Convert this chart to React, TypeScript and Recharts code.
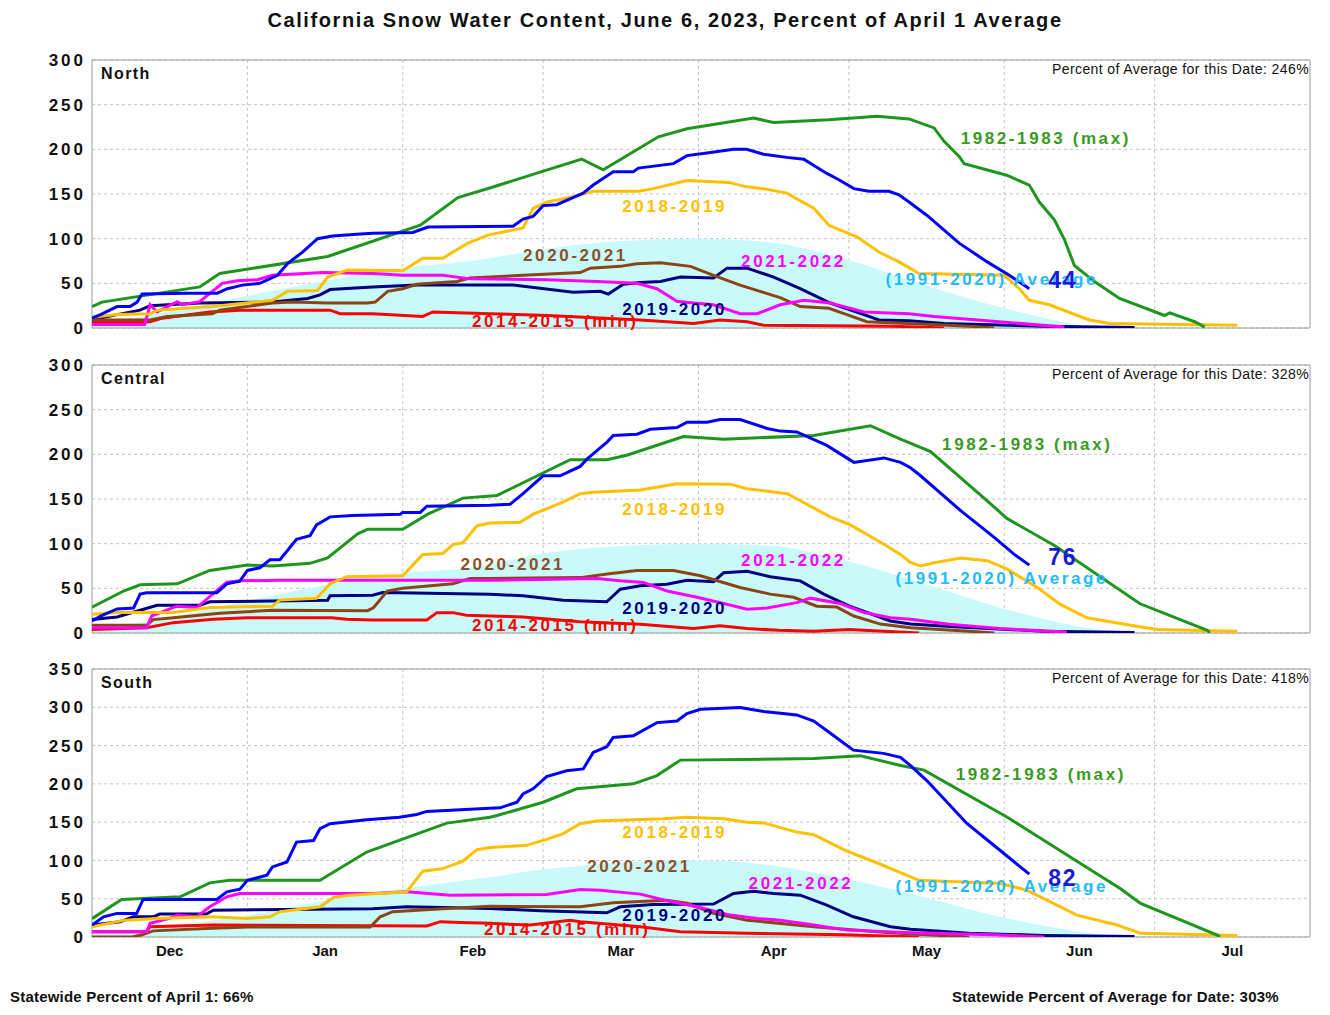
import {
  ComposedChart,
  Line,
  Area,
  XAxis,
  YAxis,
  CartesianGrid,
  ReferenceArea,
  ReferenceDot,
} from 'recharts'

// ─── Axis definitions ────────────────────────────────────────────────────────
// x = day index, 0 = Dec 1, 243 = Aug 1

const monthStarts = [31, 62, 90, 121, 151, 182, 212]
const monthMids = [15.5, 46.5, 76, 105.5, 136, 166.5, 197, 227.5]
const monthNames = ['Dec', 'Jan', 'Feb', 'Mar', 'Apr', 'May', 'Jun', 'Jul']

const ticks300 = [0, 50, 100, 150, 200, 250, 300]
const ticks350 = [0, 50, 100, 150, 200, 250, 300, 350]

// ─── North ───────────────────────────────────────────────────────────────────

const north8283 = [[0,24],[2,29],[21.5,46],[25.5,61],[47,80],[65.5,115],[73,146],[79.5,157],[97.7,189],[102,177],[113,214],[118.7,223],[132,235],[136,230],[147,233],[156.6,237],[163,234],[168,224],[170,209],[173,192],[174,184],[182.5,171],[187,160],[189,141],[192,121],[194,99],[196,70],[200,52],[205,33],[214,14],[215,17],[220,7],[222,1]]
const north2223 = [[0,11],[1.7,15],[5,24],[7.6,24],[9,29],[10,38],[19,39],[25,39],[27,44],[30,48],[33.5,50],[37,59],[39,72],[42,85],[45,100],[48,103],[52.8,105],[56,106],[64,107],[67,113],[84,114],[86,122],[88,125],[90,137],[92.7,138],[98,151],[100,160],[104,175],[108,175],[109,179],[116,184],[118.7,193],[122.7,196],[128,200],[130.6,200],[134,194.5],[138.6,191],[142,189],[146.6,173],[149,166],[152,156],[155,153],[159,153],[161,149],[163,141],[166.6,126],[173,95],[178.6,74],[183,59],[187,44]]
const north1819 = [[0,12],[5,15],[11.6,16],[13,20],[24,24],[36,31],[39,41],[45,42],[47,57],[51,65],[62,64],[66,78],[70,78],[72,85],[75,95],[79,104],[86,112],[88,134],[90.8,141],[96,147],[100,153],[109,153],[112,156],[118.7,165],[127,163],[130.6,158],[134,156],[138.6,151],[144,134],[147,115],[152.6,102],[157,85],[161,74],[165,61],[182,59],[185,44],[187,31],[191,26],[199,9],[203,5],[228.5,3]]
const north2021 = [[0,9],[11.6,9],[15,13],[24,16],[25.5,20],[36,28],[40,29],[47,28],[55,28],[56.5,29],[59,41],[62,44],[64.8,49],[72.8,52],[75.4,56],[86,59],[97.4,62],[99.4,67],[105.4,69],[108.7,72],[113.4,73],[119.4,69],[124,59],[129.3,48],[133.3,41],[137.3,34],[141.3,24],[147,22],[150.6,15],[154.6,7],[163,5],[175,2],[180,0]]
const north2122 = [[0,4],[10.5,4],[11.6,26],[13,18],[17,29.5],[18,26],[21.5,29.5],[24,41],[26,50],[29,53],[33,54],[36,59],[46,62],[56,61],[62,59],[70,59],[75.4,55],[90.8,54],[100.7,52],[108.7,50],[112.7,44],[116.7,30],[120,28],[124,26],[129.3,16],[132.7,16],[137.3,26],[142,31],[147.3,28],[154,18],[163,16],[168,13],[181,7],[194,1]]
const north1920 = [[0,9],[5,15],[9.6,20],[11.6,25],[21.5,28],[36,29],[43,33],[45.5,37],[47.5,43],[56,46],[64.8,48],[84,48],[96,40],[101.4,41],[103,38],[106,49],[109.4,51],[113.4,52],[117.4,57],[124,56],[126.7,67],[130.7,67],[136,57],[141.3,44],[147.3,28],[154,15],[157,9],[163,8],[170,5],[190,2],[208,0.5]]
const north1415 = [[0,7],[11.6,7],[14,11],[23.5,18],[29.5,20],[47.5,20],[49.5,16],[56,16],[66,13],[68,18],[79.4,16],[91,14],[109.4,9],[120,5],[125.3,9],[130.7,7],[134,3],[160,2],[170,0]]
const northAvg = [[0,3],[15,18],[31,36],[46,52],[62,67],[77,76],[90,88],[105,97],[121,100],[135,96],[151,76],[166,48],[182,22],[197,3],[200,0]]

// ─── Central ─────────────────────────────────────────────────────────────────

const central8283 = [[0,29],[6.3,47],[9.6,54],[17,55],[23.5,70],[31,76],[36,75],[43.5,78],[47,84],[53,111],[55,116],[62,116],[67,133],[74,151],[80.8,154],[95.4,194],[102.7,194],[106.7,199],[118,220],[126,217],[144,221],[155.3,232],[161.3,217],[167.3,203],[179,146],[182.6,128],[192,98],[209,33],[222.5,3],[223,0]]
const central2223 = [[0,13.5],[1.7,19],[5,27],[8.3,28],[9.6,43.5],[10.9,45],[24.9,45],[26.9,55],[29.5,58],[31,70],[33.5,73],[35.5,82],[37.5,82],[40.8,105],[43.5,109],[44.8,121],[47.5,130],[52,131.5],[61.5,133],[62,135],[65.5,135],[66.8,142],[79.4,143],[83.4,144],[86,156],[90,176],[93.4,176],[97.4,186.5],[98.8,195],[102.8,214],[104,221],[108.7,222.5],[111.4,228],[116.7,230],[118.7,236],[122.7,236],[125.3,239],[129.3,239],[134.7,229],[137.3,226],[140.6,225],[146.6,210],[152,191],[158,196],[161.3,191],[163.3,185],[165.3,176],[173.3,137],[180,107],[184,88],[187,76]]
const central1819 = [[0,21],[5,23],[16.2,23],[23.5,28.5],[36,30],[37.5,37],[44.8,39],[47.5,55],[50.8,63],[62,64],[66,88],[70,89],[72,99],[74,101],[76.8,120],[79.4,123],[85.4,124],[88,133],[93.4,145],[97.4,156],[100,157.5],[109.4,160],[116.7,167],[127.3,166.6],[130.7,161.5],[138.7,156],[141.3,148],[147.3,130],[151.3,121],[157.3,101.5],[161.3,88],[163.3,79],[165.3,75],[168,78.6],[173.3,84],[178.6,81],[182.6,71.5],[188.6,51],[193.2,32],[198.5,17],[207.8,8],[212.5,4],[228.5,2]]
const central2021 = [[0,8.6],[10.9,8.6],[12.2,15],[16.2,17],[25.5,22],[36,25.5],[55,25],[56.2,28.5],[58.9,47],[62,50],[72,55],[75.4,61],[79.4,61],[97.4,62],[102.8,66],[108.7,70],[116,70],[121.4,64],[129.3,51],[135.3,43.5],[140,40],[144.6,30],[148.6,29],[152,19],[157.3,10],[163.3,6],[175,2],[180,0]]
const central2122 = [[0,6],[10.9,6],[11.9,19],[16.9,30],[20.9,28.5],[24.2,44],[26.9,57],[29.5,58.4],[37.5,59],[79.4,59],[100.7,61],[105.4,58.4],[110,56.6],[114.7,47],[120.7,40],[126,33],[130.7,26.6],[134.7,28],[140.6,34],[143.3,39],[149.3,33],[154,23],[159.3,17],[163.3,15.5],[171,9.7],[181,5],[194.5,1]]
const central1920 = [[0,15],[5,18],[9.6,25.5],[13,31],[21.5,31],[23.5,35],[47,36.7],[47.5,41.6],[56,42.3],[58,45.3],[79.4,43.5],[86,41.6],[94,36.7],[102.7,35],[105.4,49],[109.4,52.8],[114.7,54.7],[118.7,59],[124,57.5],[126,67.4],[130.7,69],[135.3,63],[141.3,58.4],[146,43.5],[151,30.3],[159.3,13.5],[163.3,10],[172,7],[190,2],[208,0.5]]
const central1415 = [[0,4],[10.9,6],[16.2,11.6],[24.2,15.4],[31,17],[47.8,17],[50.8,15.4],[56,14.6],[66.8,14.6],[68.8,22.8],[72,22.8],[74.7,20],[79.4,19],[86,18],[97.4,12.7],[109.4,9.7],[120,5],[125.3,8],[130.7,5],[137,3],[144,2],[151,4],[165,0]]
const centralAvg = [[0,3],[15,17],[31,36],[46,53],[62,67],[77,74],[90,89],[105,97],[121,100],[135,98],[151,80],[166,55],[182,27],[197,7],[205,0]]

// ─── South ───────────────────────────────────────────────────────────────────

const south8283 = [[0,24],[5.9,49],[17.6,52.5],[23.5,70.7],[27.5,74],[45.5,74],[54.8,111],[70.8,148.7],[79.4,156.5],[80.8,158.7],[90,176],[96.7,193.5],[108,200],[112.7,210.8],[117.4,231],[144,233],[153.3,236.8],[161.3,224],[166,218],[182.6,156.5],[205.2,63],[209.2,43.8],[224.5,2.6],[225,0]]
const south2223 = [[0,15.6],[2.3,26.4],[5,30.8],[8.9,30.8],[10.2,49],[24.9,49],[26.9,59],[29.5,62.5],[31,74],[34.9,80.7],[36,91.5],[38.9,98],[40.8,124],[44.2,126],[45.5,141.4],[47.5,148],[54.8,153],[61.3,156.5],[64.8,160],[66.8,164],[77.4,167.4],[81.4,168.7],[84.8,176],[86,187],[88,193.5],[90.7,209.5],[94.7,217],[98,219.5],[100,241],[102.7,248.5],[104,260.6],[108,262.8],[112.7,280],[116.7,282],[118.7,291.8],[121.4,297.5],[129.3,299.6],[134,294.5],[140.6,290],[144,282],[148,262.8],[151.9,244],[157.9,239.8],[161.3,234.6],[163.3,223.8],[166.6,204],[174.6,148],[181.2,113],[187,82]]
const south1819 = [[0,13.4],[6.5,22],[13,24.3],[23.5,26.4],[31,24.3],[35.5,26.4],[37.5,33],[45.5,39.4],[48.2,51.6],[51.5,54.6],[62.8,59],[66,86],[70,89.3],[74,98.9],[76.8,114],[79.4,117],[86.7,119.7],[90.7,127.5],[94,135],[97.4,148],[100.7,151.5],[114,154.4],[118.7,156.5],[126,154.4],[130.7,150],[134,149],[140.6,137],[144,133.6],[150.6,112.3],[157.3,95],[163.3,78.5],[165,74],[181.2,70],[186.6,61],[196.5,28.6],[204.5,15.6],[209.2,4.8],[228.5,2]]
const south2021 = [[0,0],[8,0],[10,3],[12.2,8],[22.8,11],[31,13],[55.5,13],[57.5,26.4],[60,33],[70,37],[79.4,40],[97.4,39.5],[104,44.6],[114.7,48],[118.7,44],[124,30.8],[130.7,22],[144,13.4],[157.3,6.5],[163.3,4],[175,0]]
const south2122 = [[0,7],[10.9,7],[11.6,17.8],[15.5,24.3],[17,28.6],[20.9,26.4],[23.5,39.4],[26.9,52.5],[29.5,56.8],[56,56.8],[62.8,59],[71.5,54.6],[90.7,55.5],[97.4,62],[101.4,61],[109.4,56],[114.7,47.3],[120.7,39.4],[127.3,28.6],[132.7,24.3],[137.3,22],[144,15.6],[150.6,9],[163.3,5.5],[180,3],[190,0]]
const south1920 = [[0,15.6],[5.6,20],[8.3,26.4],[12.2,26.4],[13.5,30],[22.8,30],[24.2,35],[56,37],[62.8,39.4],[79.4,37.3],[89.4,34.2],[102.7,31.6],[105.4,39.4],[112,42.5],[124,43],[128,56.8],[132,59.8],[136,56.8],[141.3,54.6],[146.6,41.6],[151.9,26.4],[159.3,13.4],[163.3,10],[175,5],[190,2],[208,0.5]]
const south1415 = [[0,7],[10.9,7],[11.6,13.4],[24.2,15.6],[66.8,14.5],[69.5,20],[73.4,19],[79.4,17.8],[87.4,15.6],[95.4,22],[97.4,20],[109.4,13.4],[117.4,7],[130.7,4.8],[150,3],[165,0]]
const southAvg = [[0,4],[15,14],[31,28],[46,47],[62,63],[77,76],[90,88],[105,97],[121,100],[135,94],[151,75],[166,52],[182,25],[197,7],[205,0]]

// ─── Labels: [text, day, value] ──────────────────────────────────────────────

const northLabels = [['1982-1983 (max)',173.3,212.8],['2018-2019',105.8,136.6],['2020-2021',86,81.7],['2021-2022',129.5,75],['(1991-2020) Average',158.3,55],['2019-2020',105.8,21],['2014-2015 (min)',75.8,7.8]]
const centralLabels = [['1982-1983 (max)',169.6,212],['2018-2019',105.8,139.3],['2020-2021',73.5,77.5],['2021-2022',129.5,82],['(1991-2020) Average',160.3,61.8],['2019-2020',105.8,28],['2014-2015 (min)',75.8,9]]
const southLabels = [['1982-1983 (max)',172.3,213.4],['2018-2019',105.8,137.9],['2020-2021',98.8,92.4],['2021-2022',131,70.3],['(1991-2020) Average',160.3,66.4],['2019-2020',105.8,28.6],['2014-2015 (min)',78.2,10.4]]

const FONT = '"Liberation Sans", Arial, sans-serif'

const lineColors: Record<string, string> = {
  '2014-2015 (min)': '#ff0000',
  '2019-2020': '#000080',
  '2020-2021': '#8b4513',
  '2021-2022': '#ff00ff',
  '2018-2019': '#ffc000',
  '1982-1983 (max)': '#1e961e',
  '2022-2023': '#0000ff',
}

const labelColors: Record<string, string> = {
  '2014-2015 (min)': '#ff0000',
  '2019-2020': '#000080',
  '2020-2021': '#8c4f28',
  '2021-2022': '#ff00ff',
  '2018-2019': '#ffc000',
  '1982-1983 (max)': '#3a9a1e',
  '(1991-2020) Average': '#22bbff',
}

const pts = (a: number[][]) => a.map(([d, v]) => ({ d, v }))

// ─── Panel ───────────────────────────────────────────────────────────────────

interface PanelProps {
  top: number
  name: string
  pct: string
  yMax: number
  yTicks: number[]
  avg: number[][]
  lines: [string, number[][]][]
  labels: (string | number)[][]
  current: [string, number, number]
  showX: boolean
}

const YTick = ({ x, y, payload }: any) => (
  <text x={x + 2} y={y} dy="0.36em" textAnchor="end" fontFamily={FONT} fontSize={17}
    fontWeight="bold" letterSpacing={3} fill="#111">
    {payload.value}
  </text>
)

function Panel({ top, name, pct, yMax, yTicks, avg, lines, labels, current, showX }: PanelProps) {
  const plotH = 268
  const height = 10 + plotH + (showX ? 30 : 0) + 10
  return (
    <div style={{ position: 'absolute', left: 0, top, width: 1330, height }}>
      <ComposedChart width={1330} height={height} margin={{ top: 10, right: 20, left: 0, bottom: 10 }}>
        <CartesianGrid stroke="#c4c4c4" strokeDasharray="3 3" verticalValues={monthStarts} />
        <XAxis
          type="number"
          dataKey="d"
          domain={[0, 243]}
          allowDataOverflow
          ticks={monthMids}
          tickFormatter={(v: number) => monthNames[monthMids.indexOf(v)] ?? ''}
          tick={{ fontSize: 15, fontWeight: 'bold', fill: '#111', fontFamily: FONT }}
          tickLine={false}
          axisLine={false}
          hide={!showX}
          height={30}
        />
        <YAxis
          type="number"
          domain={[0, yMax]}
          ticks={yTicks}
          allowDataOverflow
          width={92}
          tick={<YTick />}
          tickLine={false}
          axisLine={false}
        />
        <Area data={pts(avg)} dataKey="v" type="monotone" fill="#c8fafa" fillOpacity={1}
          stroke="none" isAnimationActive={false} />
        {lines.map(([key, arr]) => (
          <Line key={key} data={pts(arr)} dataKey="v" type="linear" stroke={lineColors[key]}
            strokeWidth={3} dot={false} activeDot={false} isAnimationActive={false} />
        ))}
        <ReferenceArea x1={0} x2={243} y1={0} y2={yMax} fill="none" stroke="#9a9a9a" strokeWidth={1} />
        {labels.map(([text, d, v]) => (
          <ReferenceDot key={text as string} x={d as number} y={v as number} r={1} ifOverflow="visible"
            shape={(p: any) => (
              <text x={p.cx} y={p.cy} dy="0.36em" fontFamily={FONT} fontSize={17} fontWeight="bold"
                letterSpacing={2.6} fill={labelColors[text as string]}>
                {text}
              </text>
            )}
          />
        ))}
        <ReferenceDot x={current[1]} y={current[2]} r={1} ifOverflow="visible"
          shape={(p: any) => (
            <text x={p.cx} y={p.cy} dy="0.36em" fontFamily={FONT} fontSize={23} fontWeight="bold"
              letterSpacing={1.5} fill="#1a1ad8">
              {current[0]}
            </text>
          )}
        />
      </ComposedChart>
      <div style={{ position: 'absolute', left: 101, top: 15, fontFamily: FONT, fontSize: 16,
        fontWeight: 'bold', letterSpacing: 1.4, color: '#111' }}>{name}</div>
      <div style={{ position: 'absolute', right: 21, top: 11, fontFamily: FONT, fontSize: 14,
        color: '#111', letterSpacing: 0.4 }}>{pct}</div>
    </div>
  )
}

export default function App() {
  return (
    <div style={{ position: 'absolute', left: 0, top: 0, width: 1330, height: 1015, background: '#fff',
      fontFamily: FONT }}>
      <div style={{ position: 'absolute', left: 0, top: 9, width: 1330, textAlign: 'center', fontSize: 20,
        fontWeight: 'bold', letterSpacing: 1.6, color: '#111' }}>
        California Snow Water Content, June 6, 2023, Percent of April 1 Average
      </div>
      <Panel top={50} name="North" pct="Percent of Average for this Date: 246%" yMax={300} yTicks={ticks300}
        avg={northAvg}
        lines={[['2014-2015 (min)', north1415], ['2019-2020', north1920], ['2020-2021', north2021],
          ['2021-2022', north2122], ['2018-2019', north1819], ['1982-1983 (max)', north8283], ['2022-2023', north2223]]}
        labels={northLabels} current={['44', 190.8, 53.7]} showX={false} />
      <Panel top={355} name="Central" pct="Percent of Average for this Date: 328%" yMax={300} yTicks={ticks300}
        avg={centralAvg}
        lines={[['2014-2015 (min)', central1415], ['2019-2020', central1920], ['2020-2021', central2021],
          ['2021-2022', central2122], ['2018-2019', central1819], ['1982-1983 (max)', central8283], ['2022-2023', central2223]]}
        labels={centralLabels} current={['76', 190.8, 85.4]} showX={false} />
      <Panel top={659} name="South" pct="Percent of Average for this Date: 418%" yMax={350} yTicks={ticks350}
        avg={southAvg}
        lines={[['2014-2015 (min)', south1415], ['2019-2020', south1920], ['2020-2021', south2021],
          ['2021-2022', south2122], ['2018-2019', south1819], ['1982-1983 (max)', south8283], ['2022-2023', south2223]]}
        labels={southLabels} current={['82', 190.8, 78]} showX={true} />
      <div style={{ position: 'absolute', left: 10, top: 988, fontSize: 15, fontWeight: 'bold', color: '#111',
        letterSpacing: 0.2 }}>
        Statewide Percent of April 1: 66%
      </div>
      <div style={{ position: 'absolute', left: 952, top: 988, fontSize: 15, fontWeight: 'bold', color: '#111',
        letterSpacing: 0.2 }}>
        Statewide Percent of Average for Date: 303%
      </div>
    </div>
  )
}
